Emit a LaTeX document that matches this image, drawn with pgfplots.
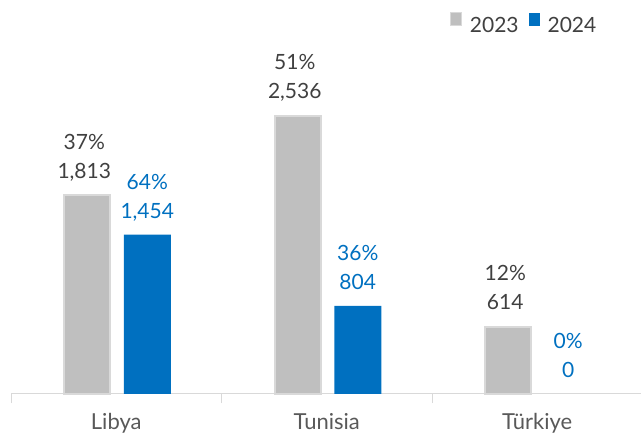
\documentclass[border=0pt]{standalone}
\usepackage{pgfplots}
\pgfplotsset{compat=1.18}
\usepackage{fontspec}
\setmainfont{Lato}
\definecolor{bargray}{HTML}{BFBFBF}
\definecolor{barborder}{HTML}{D9D9D9}
\definecolor{barblue}{HTML}{0070C0}
\definecolor{txt}{HTML}{404040}
\definecolor{cattxt}{HTML}{595959}
\definecolor{axisgray}{HTML}{D9D9D9}

\begin{document}
\begin{tikzpicture}
\path[use as bounding box] (0,0) rectangle (641bp,435bp);
\begin{axis}[
  at={(11bp,41bp)}, anchor=south west,
  scale only axis,
  width=631.5bp, height=329bp,
  xmin=-0.5, xmax=2.5, ymin=0, ymax=3000,
  axis x line*=bottom, axis y line=none,
  x axis line style={draw=axisgray, line width=1bp},
  xtick={0,1,2}, xticklabels={Libya,Tunisia,Türkiye},
  major tick length=0pt,
  minor xtick={-0.5,0.5,1.5,2.5},
  minor tick length=9bp,
  tick align=outside,
  minor tick style={draw=axisgray, line width=1bp},
  xticklabel style={font=\fontsize{22bp}{26bp}\selectfont, text=cattxt, anchor=base, yshift=-35.5bp},
  clip=false,
  point meta=explicit symbolic,
  nodes near coords,
  every node near coord/.append style={anchor=south, inner sep=0pt, text depth=0pt,
    yshift=16bp, align=center, font=\fontsize{21bp}{29bp}\selectfont},
  legend style={at={(0.695,1.094)}, anchor=south west, draw=none, fill=none,
    inner sep=0pt, outer sep=0pt, legend columns=2,
    font=\fontsize{21bp}{24bp}\selectfont, text=txt,
    nodes={inner sep=0pt},
    /tikz/every odd column/.append style={column sep=8bp},
    /tikz/every even column/.append style={column sep=10bp}},
  legend image code/.code={\path[#1, line width=1bp] (0bp,0bp) rectangle (11bp,13bp);},
]

\addplot[ybar, bar width=46bp, bar shift=-29bp, fill=bargray, draw=barborder, line width=2bp,
  every node near coord/.append style={text=txt, xshift=-32bp}]
  coordinates {(0,1813) [{37\%\\1,813}] (1,2536) [{51\%\\2,536}] (2,614) [{12\%\\614}]};

\addplot[ybar, bar width=47bp, bar shift=31bp, fill=barblue, draw=none,
  every node near coord/.append style={text=barblue, xshift=31bp}]
  coordinates {(0,1454) [{64\%\\1,454}] (1,804) [{36\%\\804}]};

\addplot[ybar, bar width=47bp, bar shift=31bp, fill=none, draw=none, forget plot,
  every node near coord/.append style={text=barblue, xshift=31bp}]
  coordinates {(2,0) [{0\%\\0}]};

\legend{2023,2024}
\end{axis}
\end{tikzpicture}
\end{document}
